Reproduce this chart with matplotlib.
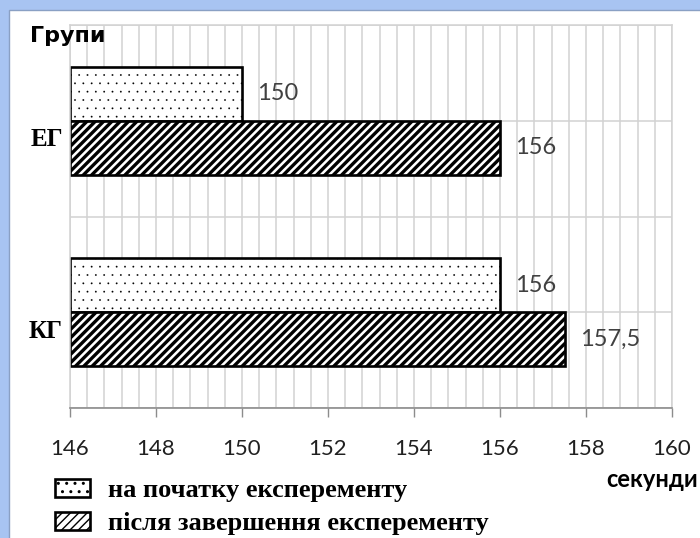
import numpy as np
import matplotlib.pyplot as plt
from matplotlib.patches import Rectangle
from matplotlib import transforms

groups = ['ЕГ', 'КГ']
before = [150, 156]
after = [156, 157.5]
series_names = ['на початку експеременту', 'після завершення експеременту']
xticks = [146, 148, 150, 152, 154, 156, 158, 160]

plt.rcParams['hatch.color'] = 'black'

fig = plt.figure(figsize=(7, 5.38), dpi=100, facecolor='#a8c4f2')
fig.patches.append(Rectangle((9/700, -0.1), 1.2, 1 - 10/538 + 0.1, transform=fig.transFigure,
                             facecolor='white', edgecolor='#8aa0c4', lw=1, zorder=-10))

ax = fig.add_axes([70/700, 1 - 408/538, 602/700, 383/538])
ax.set_facecolor('white')

base = xticks[0]
y = np.array([1, 0])
h = 0.282

with plt.rc_context({'hatch.linewidth': 0.1}):
    b1 = ax.barh(y + h/2, np.array(before) - base, height=h, left=base, color='white',
                 edgecolor='black', lw=1.9, hatch='..', label=series_names[0])
with plt.rc_context({'hatch.linewidth': 2.4}):
    b2 = ax.barh(y - h/2, np.array(after) - base, height=h, left=base, color='white',
                 edgecolor='black', lw=1.9, hatch='////', label=series_names[1])

for yy, v in zip(y + h/2, before):
    ax.text(v + 0.35, yy, f'{v:g}'.replace('.', ','), va='center', ha='left',
            family='Lato', size=17, color='#404040')
for yy, v in zip(y - h/2, after):
    ax.text(v + 0.35, yy, f'{v:g}'.replace('.', ','), va='center', ha='left',
            family='Lato', size=17, color='#404040')

ax.set_xlim(xticks[0], xticks[-1])
ax.set_ylim(-0.5, 1.5)
ax.set_xticks(xticks)
ax.set_xticklabels([str(t) for t in xticks], family='Lato', size=16, color='#202020')
ax.set_xticks(np.linspace(xticks[0], xticks[-1], 36), minor=True)
ax.set_yticks([])
ax.set_yticks([-0.5, 0, 0.5, 1, 1.5], minor=True)
ax.tick_params(axis='x', which='major', length=6.5, width=1, color='#8c8c8c', pad=16)
ax.tick_params(axis='both', which='minor', length=0)
ax.grid(True, which='both', color='#d2d2d2', lw=1.1)
ax.set_axisbelow(True)
for s in ['top', 'right', 'left']:
    ax.spines[s].set_color('#d2d2d2')
    ax.spines[s].set_linewidth(1.1)
ax.spines['bottom'].set_color('#8c8c8c')
ax.spines['bottom'].set_linewidth(1.2)

trans = transforms.blended_transform_factory(ax.transAxes, ax.transData)
for yy, g in zip(y, groups):
    ax.text(-0.012, yy - 0.1, g, transform=trans, ha='right', va='center',
            family='Liberation Serif', weight='bold', size=18)

fig.text(30/700, 1 - 42/538, 'Групи', family='DejaVu Sans', weight='bold', size=16,
         ha='left', va='baseline')
fig.text(698/700, 1 - 487/538, 'секунди', family='Lato', weight='bold', size=17,
         ha='right', va='baseline')

fig.legend(handles=[b1, b2], labels=series_names, loc='upper left',
           bbox_to_anchor=(55/700, 1 - 479/538), frameon=False,
           prop={'family': 'Liberation Serif', 'weight': 'bold', 'size': 19},
           handlelength=1.33, handleheight=0.7, handletextpad=0.68,
           labelspacing=0.35, borderpad=0, borderaxespad=0)

fig.savefig('out.png', dpi=100, facecolor=fig.get_facecolor())
